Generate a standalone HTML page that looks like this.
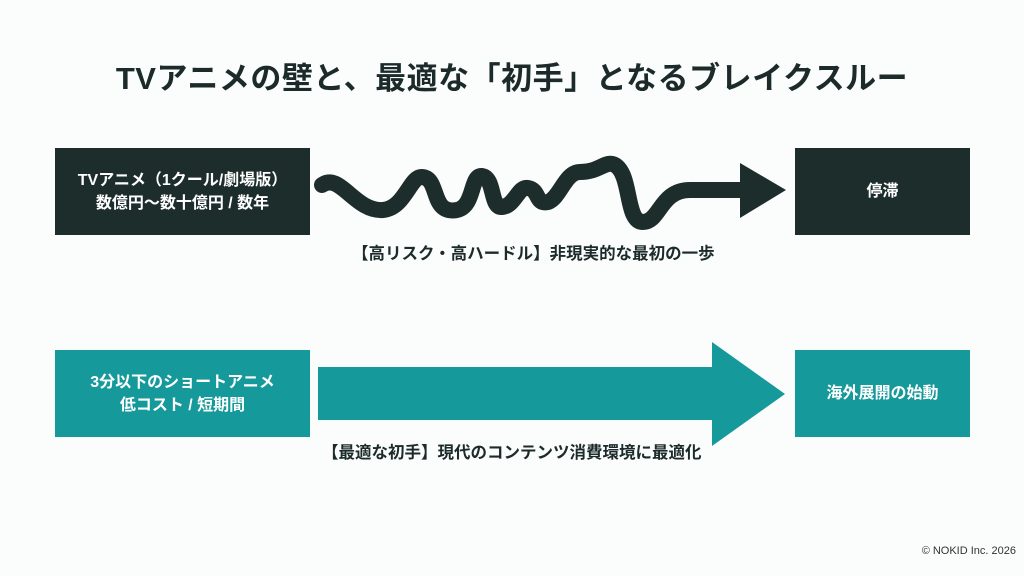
<!DOCTYPE html>
<html><head><meta charset="utf-8"><style>
body{margin:0;width:1024px;height:576px;background:#fbfcfc;position:relative;overflow:hidden;font-family:"Liberation Sans","Noto Sans CJK JP",sans-serif;color:#1c2b2a}
.t{position:absolute;left:0;width:1024px;top:53px;text-align:center;font-size:31px;font-weight:bold;letter-spacing:0.5px}
.b{position:absolute;display:flex;align-items:center;justify-content:center;text-align:center;color:#fff;font-weight:bold;font-size:16px;line-height:23px}
.d{background:#1c2d2b}.g{background:#16999a}
.l{position:absolute;font-size:16.5px;font-weight:bold}
</style></head><body>
<div class="t">TVアニメの壁と、最適な「初手」となるブレイクスルー</div>
<div class="b d" style="left:55px;top:148px;width:255px;height:87px">TVアニメ（1クール/劇場版）<br>数億円〜数十億円 / 数年</div>
<div class="b d" style="left:795px;top:148px;width:175px;height:87px">停滞</div>
<div class="b g" style="left:55px;top:350px;width:255px;height:87px">3分以下のショートアニメ<br>低コスト / 短期間</div>
<div class="b g" style="left:795px;top:350px;width:175px;height:87px">海外展開の始動</div>
<svg style="position:absolute;left:0;top:0" width="1024" height="576">
<path d="M322,185 C340,172 355,212 383,210 C405,208 410,176 422,177 C440,178 430,215 457,210 C475,206 470,175 482,176 C495,178 490,208 502,207 C515,206 518,186 528,188 C540,190 535,205 548,202 C560,198 565,172 580,172 C600,172 605,160 615,165 C632,175 625,222 643,222 C660,222 660,190 690,190 L745,190" fill="none" stroke="#1c2d2b" stroke-width="16" stroke-linecap="round" stroke-linejoin="round"/>
<polygon points="740,163 786,190 740,218" fill="#1c2d2b"/>
<polygon points="318,367 712,367 712,342 785,394 712,446 712,420 318,420" fill="#16999a"/>
</svg>
<div class="l" style="left:352px;top:240px">【高リスク・高ハードル】非現実的な最初の一歩</div>
<div class="l" style="left:322px;top:439px">【最適な初手】現代のコンテンツ消費環境に最適化</div>
<div style="position:absolute;right:8px;top:545px;font-size:11px;color:#333">© NOKID Inc. 2026</div>
</body></html>
